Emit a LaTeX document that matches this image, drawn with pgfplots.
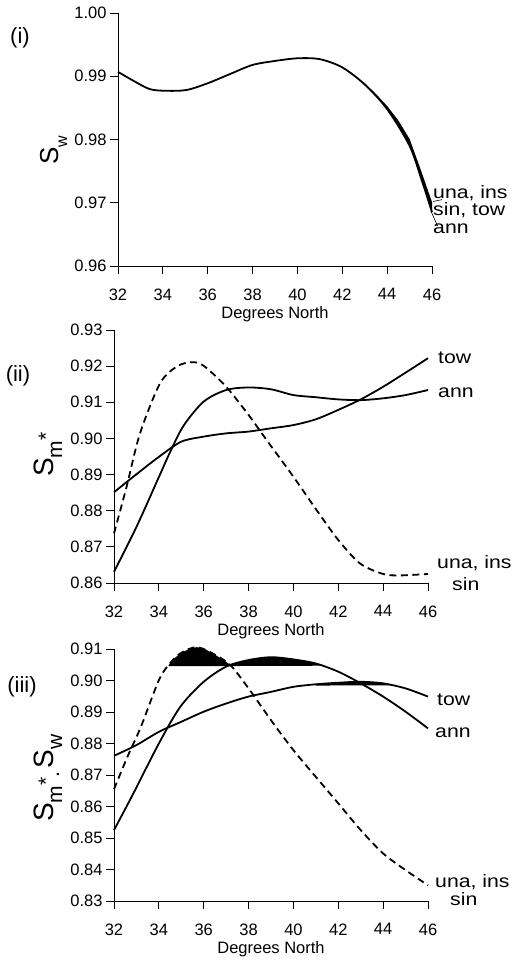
\documentclass[border=0pt]{standalone}
\usepackage{pgfplots}
\pgfplotsset{compat=1.18}
\usepackage{fontspec}
\setmainfont{Liberation Sans}

\pgfplotsset{
  panel/.style={
    scale only axis, width=314pt,
    xmin=32, xmax=46,
    axis x line*=bottom, axis y line*=left,
    axis line style={-, line width=0.8pt},
    tick align=outside, major tick length=8pt,
    tick style={line width=0.8pt, black},
    xtick={32,34,36,38,40,42,44,46},
    tick label style={font=\fontsize{16.5}{16.5}\selectfont},
    x tick label style={yshift=-11pt},
    /pgf/number format/assume math mode=true,
    y tick label style={/pgf/number format/.cd, fixed, fixed zerofill, precision=2, /tikz/.cd},
    xlabel={Degrees North},
    xlabel style={font=\fontsize{16.5}{16.5}\selectfont, at={(axis description cs:0.5,0)},
                  anchor=center, yshift=-48pt},
    clip=false,
  },
  curve/.style={black, line width=1.8pt, smooth},
  dashcurve/.style={black, line width=1.8pt, smooth, dash pattern=on 7pt off 4.5pt},
  band/.style={fill=black, draw=none},
}
\tikzset{lbl/.style={font=\fontsize{18}{18}\selectfont, anchor=base west, inner sep=0pt, xscale=1.18}}
\newcommand{\panelfont}{\fontsize{22}{22}\selectfont}

\begin{document}
\begin{tikzpicture}
\path[use as bounding box] (0,0) rectangle (521pt,-961pt);

% ---------- (i) ----------
\begin{axis}[panel, height=253pt, at={(118pt,-266pt)}, anchor=south west,
    ymin=0.96, ymax=1.00, ytick={0.96,0.97,0.98,0.99,1.00}]
\addplot[curve] coordinates {
  (32,0.9907) (32.68,0.9893) (33.43,0.98795) (34.2,0.9877) (35.06,0.98783)
  (36,0.98889) (37,0.99036) (38,0.99179) (39,0.99242) (40,0.99284)
  (41,0.99270) (42,0.9914) (43,0.9887) (44,0.9848) (45,0.9790)
  (45.54,0.9736) (46,0.9685)};
% band where the five curves separate
\addplot[band] coordinates {
  (43,0.9889) (43.5,0.9872) (44,0.9853) (44.5,0.9830) (45,0.9801)
  (45.5,0.9752) (46,0.9701)
  (46,0.9685) (45.5,0.9740) (45,0.9790) (44.5,0.9822) (44,0.9848)
  (43.5,0.9869) (43,0.9887)};
% leader lines
\addplot[black, line width=0.6pt] coordinates {(46.05,0.9702) (46.45,0.9705)};
\addplot[black, line width=0.6pt] coordinates {(45.95,0.9687) (46.25,0.9663)};
\end{axis}
\node[lbl] at (433pt,-198pt) {una, ins};
\node[lbl] at (433pt,-215pt) {sin, tow};
\node[lbl] at (433pt,-233pt) {ann};
\node[font=\panelfont] at (20pt,-38pt) {(i)};
\node[rotate=90, anchor=base west, inner sep=0pt] at (58pt,-165pt)
  {\fontsize{26}{26}\selectfont S\raisebox{-9pt}{\fontsize{16}{16}\selectfont w}};

% ---------- (ii) ----------
\begin{axis}[panel, height=253pt, at={(114pt,-583pt)}, anchor=south west,
    ymin=0.86, ymax=0.93, ytick={0.86,0.87,0.88,0.89,0.90,0.91,0.92,0.93}]
% una, ins, sin
\addplot[dashcurve] coordinates {
  (32,0.8737) (32.56,0.8866) (33.16,0.9014) (34.05,0.9152) (34.8,0.9199)
  (35.46,0.9211) (36,0.9201) (37,0.9143) (38,0.9065) (38.8,0.8996)
  (40,0.8894) (41.03,0.8802) (42,0.8719) (42.97,0.8654) (44,0.8625)
  (44.75,0.8621) (46,0.8625)};
% ann
\addplot[curve] coordinates {
  (32,0.8631) (33,0.8755) (34,0.8893) (34.5,0.8962) (35.1,0.9035)
  (36,0.9102) (37,0.9134) (38,0.9141) (39,0.9136) (40,0.9120)
  (41,0.9114) (42,0.9108) (43,0.9106) (44,0.9111) (45,0.9120) (46,0.9134)};
% tow
\addplot[curve] coordinates {
  (32,0.8851) (32.86,0.8894) (34,0.8949) (35,0.8991) (36,0.9005)
  (37,0.9014) (38,0.9019) (39,0.9028) (40,0.9037) (41,0.9053)
  (42,0.9079) (43,0.9108) (44,0.9143) (45,0.9182) (46,0.9222)};
\end{axis}
\node[lbl] at (438pt,-363pt) {tow};
\node[lbl] at (438pt,-397pt) {ann};
\node[lbl] at (437pt,-568pt) {una, ins};
\node[lbl] at (452pt,-590pt) {sin};
\node[font=\panelfont] at (18pt,-376pt) {(ii)};
\node[rotate=90, anchor=base west, inner sep=0pt] at (53pt,-477pt)
  {\fontsize{28}{28}\selectfont S\fontsize{21}{21}\selectfont\raisebox{-9pt}{m}*};

% ---------- (iii) ----------
\begin{axis}[panel, height=252pt, at={(114pt,-901pt)}, anchor=south west,
    ymin=0.83, ymax=0.91, ytick={0.83,0.84,0.85,0.86,0.87,0.88,0.89,0.90,0.91}]
% una, ins, sin
\addplot[dashcurve] coordinates {
  (32,0.8655) (32.6,0.8758) (33.2,0.8853) (34,0.9001) (34.5,0.9055)
  (35,0.9088) (35.7,0.9106) (36.5,0.9082) (37.2,0.9048) (38,0.8975)
  (39,0.8874) (40,0.8779) (41,0.8694) (42,0.8610) (43,0.8525)
  (44,0.8451) (45,0.8398) (46,0.8350)};
% ann
\addplot[curve] coordinates {
  (32,0.8525) (32.86,0.8641) (34,0.8800) (34.96,0.8917) (36,0.8996)
  (37,0.9044) (38,0.9065) (39,0.9074) (40,0.9067) (41,0.9054)
  (42,0.9028) (43,0.8991) (44,0.8949) (45,0.8901) (46,0.8848)};
% tow
\addplot[curve] coordinates {
  (32,0.8761) (33,0.8795) (34,0.8837) (35,0.8869) (36,0.8901)
  (37,0.8927) (38,0.8949) (39,0.8964) (40,0.8980) (41,0.8988)
  (42,0.8993) (43,0.8996) (44,0.8991) (45,0.8975) (46,0.8949)};
% shaded bands above the optimum level
\addplot[band] coordinates {
  (34.42,0.9046) (34.5,0.9055) (34.75,0.9074) (35,0.9088) (35.35,0.9100)
  (35.7,0.9106) (36.1,0.9098) (36.5,0.9082) (36.9,0.9064) (37.26,0.9046)};
\addplot[band] coordinates {
  (37.26,0.9046) (37.26,0.9051) (37.6,0.9058) (38,0.9065) (38.5,0.9071)
  (39,0.9074) (39.5,0.9072) (40,0.9067) (40.5,0.9061) (41,0.9054) (41.3,0.9047)};
\addplot[band] coordinates {
  (41,0.8984) (41,0.8988) (41.5,0.8991) (42,0.8993) (42.5,0.8995)
  (43,0.8996) (43.5,0.8994) (44,0.8991) (44.4,0.8985)};
\end{axis}
\node[lbl] at (437pt,-705pt) {tow};
\node[lbl] at (435pt,-737pt) {ann};
\node[lbl] at (435pt,-887pt) {una, ins};
\node[lbl] at (450pt,-905pt) {sin};
\node[font=\panelfont] at (22pt,-687pt) {(iii)};
\node[rotate=90, anchor=base west, inner sep=0pt] at (53pt,-822pt)
  {\fontsize{28}{28}\selectfont S\fontsize{21}{21}\selectfont\raisebox{-9pt}{m}*\raisebox{-6pt}{.}\,%
   \fontsize{28}{28}\selectfont S\fontsize{21}{21}\selectfont\raisebox{-9pt}{w}};
\end{tikzpicture}
\end{document}
